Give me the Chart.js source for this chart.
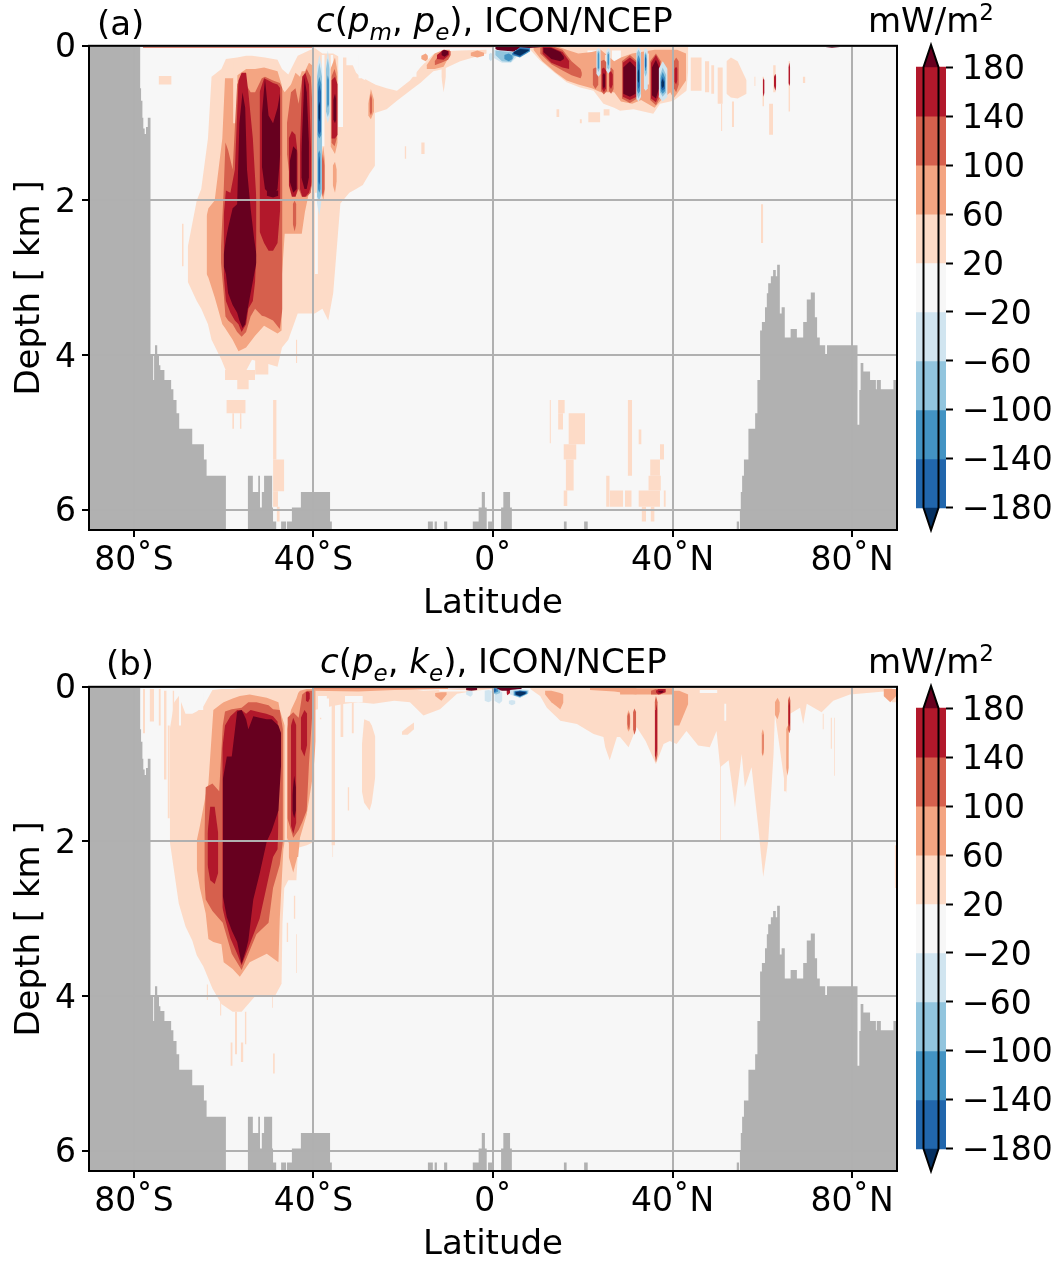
<!DOCTYPE html>
<html>
<head>
<meta charset="utf-8">
<title>ICON/NCEP energy conversion</title>
<script src="https://cdn.jsdelivr.net/npm/chart.js@4"></script>
<style>
  html, body { margin: 0; background: #fff; }
  #page { position: relative; width: 1060px; height: 1263px; overflow: hidden; font-family: "DejaVu Sans"; color: #000; }
  canvas { position: absolute; }
  .txt { position: absolute; font-size: 34px; line-height: 40px; white-space: nowrap; }
  .txt sub { font-size: 23px; line-height: 0; }
  .txt sup { font-size: 23px; line-height: 0; }
</style>
</head>
<body>
<div id="page">
  <canvas id="mainA" width="905" height="605" style="left:0;top:20px"></canvas>
  <canvas id="barA" width="155" height="543" style="left:905px;top:16px"></canvas>
  <canvas id="mainB" width="905" height="605" style="left:0;top:661px"></canvas>
  <canvas id="barB" width="155" height="543" style="left:905px;top:657px"></canvas>

  <div class="txt" style="left:97px;top:3px">(a)</div>
  <div class="txt" style="left:316px;top:0">
    <i>c</i>(<i>p<sub>m</sub></i>, <i>p<sub>e</sub></i>), ICON/NCEP</div>
  <div class="txt" style="left:868px;top:0">mW/m<sup>2</sup></div>
  <div class="txt" style="left:106px;top:643px">(b)</div>
  <div class="txt" style="left:320px;top:641px"><i>c</i>(<i>p<sub>e</sub></i>, <i>k<sub>e</sub></i>), ICON/NCEP</div>
  <div class="txt" style="left:868px;top:641px">mW/m<sup>2</sup></div>
</div>

<script>
// colours of the contour levels
const c0 = '#f7f7f7', p20 = '#fddbc7', p60 = '#f4a582', p100 = '#d6604d', p140 = '#b2182b', p180 = '#67001f';
const n20 = '#d1e5f0', n60 = '#92c5de', n100 = '#4393c3', n140 = '#2166ac', n180 = '#053061';
const landColor = '#b1b1b1', gridColor = '#b0b0b0';

const latTicks = [-80, -40, 0, 40, 80];
const latLabels = ['80˚S', '40˚S', '0˚', '40˚N', '80˚N'];
const depthTicks = [0, 2, 4, 6];
const barTicks = [180, 140, 100, 60, 20, -20, -60, -100, -140, -180];
const barLabels = ['180', '140', '100', '60', '20', '−20', '−60', '−100', '−140', '−180'];
const barColors = [p140, p100, p60, p20, c0, n20, n60, n100, n140];
const depthMax = 6.26;

// sea floor, depth holds until the next latitude
const landLat = [-90,-78.6,-78.4,-78.1,-77.9,-77.6,-77.3,-76.9,-76.3,-75.7,-75.5,-75.3,-74.8,-74.4,-74.1,-73.2,-71.7,-71.2,-70.5,-69.9,-67,-64.4,-63.8,-59.5,
  -54.6,-53.5,-52.3,-51.9,-51.5,-51,-49.2,-49,-48.3,-47.2,-46.1,-45.9,-44.8,-42.8,-36.3,-35.9,-14.5,-13.4,-13,-12.5,-10.9,-10.2,-4.5,-3.2,-2.5,-1.8,-1.4,-1.1,-0.2,
  1.8,2.3,3.8,4.2,15.8,16.4,20.3,21.1,54.3,54.8,55,55.2,55.5,55.9,56.9,58.4,58.9,59.5,59.9,60.6,61,61.3,61.9,62.4,63,63.3,63.9,64.3,65,66.3,67.7,69.1,69.9,70.8,71.7,72.2,72.8,74,74.4,
  81.2,81.6,81.9,82.5,84,85.3,85.5,86.4,89.2,90];
const landDepth = [0,.55,.71,.93,1.07,1.14,1.05,.93,4,4.32,4,3.87,4,4.13,4.19,4.32,4.44,4.58,4.75,4.95,5.15,5.35,5.56,6.26,
  5.56,5.77,5.56,5.97,5.77,5.56,5.97,6.15,6.26,6.15,6.26,6.15,5.97,5.77,6.15,6.26,6.15,6.26,6.15,6.26,6.15,6.26,6.15,5.97,5.77,5.97,6.26,6.15,6.26,
  5.97,5.77,5.97,6.26,6.15,6.26,6.15,6.26,6.15,6.26,6,5.77,5.56,5.35,4.95,4.75,4.32,3.68,3.57,3.38,3.2,3.07,2.98,2.9,2.98,2.83,3.46,3.38,3.77,3.66,3.77,3.57,3.28,3.19,3.51,3.77,3.87,3.99,3.87,
  4.9,4.45,4.1,4.21,4.32,4.44,4.32,4.44,4.32,4.32];

// panel (a): shapes are [lats, top depths, bottom depths], rects are [lat, lat, top, bottom]
const a20 = [
  [[-68,-66,-65,-63.5,-62.7,-60.5,-59.5,-57,-55,-53.7,-50.8,-48,-47,-45.6,-43.5,-41,-39.7,-38,-36.7,-35.6,-34,-32,-30.5,-29,-27.5,-26.3],
   [2.6,2,1.85,1.2,.4,.3,.17,.15,.13,.13,.15,.18,.3,.37,.13,.06,.03,.1,.1,.1,.15,.15,.35,.43,.47,.5],
   [3.05,3.3,3.4,3.6,3.8,4.06,4.2,4.3,4.2,4.06,4.1,4.15,3.9,3.8,3.46,3.46,3.46,3.4,3.55,3.2,2.04,1.9,1.85,1.8,1.65,1.55]],
  [[-28.5,-26.3,-23.7,-21.4,-18.5,-16.2,-13.3,-11,-7.3,-1.4],
   [.43,.5,.55,.58,.45,.28,.11,.07,.06,.05],
   [.8,.87,.82,.71,.58,.48,.33,.3,.2,.1]],
  [[6.5,8.3,10.5,13.5,16.4,19.4,22.4,24.6,27,28.3,31.3,35.7,37.2,40.2,43.1,43.5],
   [0,0,0,0,0,0,0,0,0,0,0,0,0,0,0,0],
   [.03,.05,.19,.34,.47,.54,.58,.75,.8,.84,.82,.88,.75,.71,.58,.3]],
  [[-11.5,-11,-10.5],[.28,.28,.28],[.4,.6,.4]],
  [[52,53,54.5,56.5],[.2,.15,.2,.45],[.62,.67,.68,.62]]
];
const a20Rects = [
  [-74.5,-71.6,.39,.5],[-69.3,-68.9,2.3,2.85],[-59.7,-53,4.19,4.32],[-57,-54.4,4.32,4.44],[-59.4,-55.1,4.58,4.75],[-58.1,-57.7,4.75,4.95],[-56.4,-56,4.75,4.95],
  [-49,-48.2,4.58,5.35],[-49,-46.5,5.35,5.76],[-49,-47.9,5.76,5.96],[-48.2,-47.5,5.96,6.15],[-43.9,-43.6,3.8,4.1],[-53,-50,3.9,4.25],
  [-19.7,-19.3,1.3,1.46],[-16,-15.2,1.25,1.4],[14.1,14.8,.82,.92],[19.3,19.8,.95,1],[21.2,23.9,.86,.99],[24.6,26,.82,.9],
  [44,46.5,.15,.58],[47.2,48.2,.2,.6],[48.6,49.3,.25,.62],[50,51.2,.28,.75],[50.8,51.1,.75,1.1],[53.2,53.7,.72,1.05],[58.2,58.5,.4,.52],
  [60,60.4,.4,.78],[61.5,62.4,.75,1.15],[62.4,63,.25,.6],[65.8,66.2,.2,.85],[59.7,60.2,2.05,2.55],[69,69.6,.4,.48],
  [12.6,12.9,4.58,5.14],[14.5,16,4.58,4.75],[14.5,15.6,4.75,4.96],[16.8,20.5,4.75,5.15],[15.7,18.6,5.15,5.35],[16.2,18,5.35,5.75],[15.7,16.6,5.75,5.95],
  [25.2,26,5.56,5.96],[26,29,5.75,5.96],[29.4,30.9,5.75,5.96],[30,31,4.58,5.56],[32.4,37.2,5.75,5.96],[34.6,37.4,5.56,5.75],[35,37.2,5.35,5.56],[32.4,33.1,4.96,5.15],
  [33.1,34.1,5.96,6.15],[35.1,36,5.96,6.15],[38,38.5,5.75,5.96],[37.2,38.1,5.15,5.35]
];
const a0Rects = [
  [-39.7,-39,1.9,2.95],[-38.2,-37.5,.12,1.3],[-36.2,-35.6,.12,.3],[-34.5,-33.4,.1,1.05],[-32.7,-29,.1,.25],[-30,-22,.12,.42],[-22,-17,.12,.4],[-17,-15,.1,.22],
  [26.5,28.5,.06,.3],[21,24,.06,.13]
];
const a60 = [
  [[-63.8,-63.4,-62,-60.3,-59.7,-58,-56.7,-55,-53,-51,-48,-47.1,-47,-46.4,-45,-44,-43,-42.6,-41.9,-41,-40.3],
   [2.2,2.1,2,1.2,.42,.42,.37,.3,.3,.28,.33,.5,.55,.6,.5,.35,.4,.33,.33,.22,.25],
   [2.95,3,3.25,3.6,3.65,3.8,3.95,3.9,3.75,3.62,3.72,3.68,2.95,2.43,2.43,2.43,2.43,2.43,2.15,1.9,1.8]],
  [[-36.2,-35.2,-34.6],[.3,.15,.35],[1.3,1.4,1.25]],
  [[-35.7,-35.2,-34.8],[1.55,1.5,1.6],[1.8,1.9,1.75]],
  [[-38.4,-37.8,-37.4],[1.5,1.3,1.5],[1.85,2,1.85]],
  [[-27.8,-27.2,-26.5],[.75,.56,.7],[.9,.95,.85]],
  [[-14.8,-13,-11,-9.6],[.25,.1,.05,.05],[.3,.3,.27,.12]],
  [[-16,-15,-14.5],[.13,.1,.13],[.17,.2,.17]],
  [[-5,-3.5,-2],[.09,.06,.09],[.13,.15,.13]],
  [[9,11,14,16.4,19,22,24,27,28.5,31,33,36,37.5,39.5,40.2,41,43],
   [0,0,0,.05,.1,.08,.05,.2,.15,.1,.08,.05,.05,.05,.05,.05,.1],
   [.05,.2,.35,.45,.5,.55,.6,.6,.72,.75,.7,.8,.7,.6,.68,.62,.45]]
];
const a20Over = [[-57.9,-56.9,.2,1],[24.9,25.4,.12,.5],[33.6,34.8,.1,.5]];
const a100 = [
  [[-60.6,-60,-59.6,-59,-58,-57,-56,-55,-54,-53,-51.5,-50.8,-49,-47.5,-46.9],
   [2.6,1.87,1.25,1.35,1.6,.5,.38,.5,.6,.6,.42,.4,.45,.48,.55],
   [2.8,3.2,3.5,3.55,3.6,3.7,3.76,3.7,3.5,3.4,3.49,3.5,3.55,3.66,3.4]],
  [[-45.9,-45,-44,-43.3,-42.6,-41.5,-40.6,-40.2],[1,.6,.55,.75,.45,.3,.4,.8],[1.4,1.85,1.95,1.85,1.95,1.95,1.9,1.7]],
  [[-44.6,-44.2,-43.8],[2.05,2,2.05],[2.3,2.4,2.3]],
  [[-36,-35.3,-34.8],[.4,.3,.4],[1.25,1.3,1.2]],
  [[-38.3,-37.9,-37.5],[1.55,1.4,1.55],[1.85,1.95,1.85]],
  [[-27.5,-27.2,-26.9],[.7,.62,.7],[.85,.9,.85]],
  [[-13,-11.5,-10,-9.4],[.2,.08,.06,.07],[.25,.22,.18,.12]],
  [[10.5,13,15.5,17.5,19.5,19.8],[0,0,.05,.2,.3,.35],[.1,.24,.32,.38,.42,.38]],
  [[22.2,22.8,23.5],[.3,.28,.3],[.5,.56,.5]],
  [[24,24.7,25.4],[.2,.18,.22],[.58,.63,.58]],
  [[25.8,26.3,26.9],[.3,.28,.32],[.58,.62,.56]],
  [[28.7,30.5,32.1],[.2,.12,.2],[.68,.74,.68]],
  [[35,36.3,37.4],[.2,.1,.2],[.7,.77,.65]],
  [[40.3,40.8,41.4],[.2,.15,.2],[.55,.6,.5]]
];
const a140 = [
  [[-60,-59.5,-58.5,-57.5,-56.7,-56,-55,-54.5,-53.5,-53,-52.7],
   [2.2,1.87,1.9,1.6,.45,.35,.35,.6,1.2,1.7,2],
   [2.95,3.3,3.45,3.55,3.6,3.7,3.6,3.4,3.3,3.05,2.6]],
  [[-52,-51,-50,-49,-48,-47.4],[.6,.42,.45,.48,.5,.55],[2.4,2.55,2.65,2.65,2.55,2.1]],
  [[-45.5,-44.8,-44,-43.5],[1.2,1.1,1.15,1.4],[1.8,1.95,1.95,1.85]],
  [[-43,-42.5,-41.8,-41,-40.5],[1.3,.4,.35,.5,1.4],[1.85,1.95,1.95,1.9,1.8]],
  [[-36,-35.2,-34.6],[.45,.4,.5],[1.2,1.2,1.15]],
  [[-12.5,-11,-9.8],[.12,.05,.07],[.17,.18,.12]],
  [[11,13,15.5,17],[0,.02,.08,.2],[.1,.22,.28,.3]],
  [[24.2,24.7,25.2],[.3,.28,.32],[.55,.6,.55]],
  [[25.9,26.3,26.7],[.35,.33,.37],[.52,.56,.5]],
  [[28.9,30.5,32],[.22,.15,.22],[.66,.7,.66]],
  [[35.2,36.3,37.2],[.22,.12,.22],[.68,.73,.6]],
  [[40.4,40.8,41.1],[.3,.27,.3],[.46,.5,.44]],
  [[60.1,60.3,60.5],[.45,.42,.45],[.6,.66,.6]],
  [[62.6,62.9,63.1],[.4,.36,.4],[.52,.58,.52]],
  [[65.8,66,66.2],[.28,.22,.28],[.48,.52,.48]]
];
const a180 = [
  [[-60,-59.5,-59,-58,-57,-56.5,-55.8,-55.2,-54.8,-54,-53.2,-52.7],
   [2.7,2.5,2.35,2.1,2.05,1,.6,.8,1.6,2.1,2.5,2.7],
   [2.85,2.95,3.2,3.35,3.45,3.55,3.65,3.6,3.45,3.2,2.95,2.8]],
  [[-51.5,-50.8,-50,-49,-48,-47.4],[.9,.42,.9,1,.8,.6],[1.55,1.85,1.9,1.93,1.85,1.4]],
  [[-50.4,-49,-47.8],[1.87,1.87,1.87],[1.94,1.96,1.94]],
  [[-45.3,-44.5,-43.7],[1.5,1.3,1.35],[1.75,1.9,1.85]],
  [[-42.7,-42,-41.5,-41],[1.4,.4,.6,1.25],[1.7,1.85,1.85,1.7]],
  [[-35.6,-35.2,-34.9],[.7,.62,.7],[.95,1,.95]],
  [[-11.5,-10.8,-10],[.07,.05,.07],[.12,.14,.11]],
  [[.5,2,4,5,6.5,8,10.5],[0,0,0,0,0,0,0],[.04,.08,.1,.06,.04,.03,.02]],
  [[11.2,13,15,15.8],[.03,.03,.08,.14],[.08,.17,.2,.17]],
  [[24.4,24.7,25],[.38,.35,.38],[.52,.56,.52]],
  [[29,30.5,31.8],[.28,.2,.28],[.62,.66,.62]],
  [[35.4,36.3,37],[.28,.18,.28],[.64,.68,.55]],
  [[74,75.5,77.3],[0,0,0],[.015,.025,.015]]
];
const a100Rects = [[-78,-40,0,.025],[-40,0,0,.02],[8,74,0,.015],[77,90,0,.01]];
const aNeg20 = [
  [[-39.3,-38.7,-38],[.3,.12,.3],[1.3,1.4,1.3]],
  [[-39.3,-38.7,-38.2],[1.4,1.35,1.45],[2,2.2,2]],
  [[-37.3,-36.8,-36.3],[.25,.06,.25],[.9,1,.9]],
  [[-.9,-.5,-.1],[.11,.09,.11],[.17,.2,.17]],
  [[0,2,4,5.2],[.05,.06,.07,.08],[.15,.22,.22,.15]],
  [[23,23.5,24],[.05,.03,.05],[.36,.4,.36]],
  [[25.2,25.7,26.2],[.06,.03,.06],[.32,.36,.32]],
  [[31.9,32.4,33],[.06,.02,.06],[.68,.72,.66]],
  [[33.6,34,34.5],[.06,.03,.06],[.55,.58,.55]],
  [[36.9,37.8,38.9],[.3,.2,.3],[.66,.72,.66]]
];
const aNeg60 = [
  [[-39.2,-38.7,-38.1],[.4,.22,.4],[1.95,2,1.9]],
  [[-37.2,-36.8,-36.4],[.3,.16,.3],[.85,.92,.85]],
  [[.5,2,4,5],[.06,.07,.08,.09],[.12,.2,.21,.12]],
  [[23.2,23.5,23.8],[.08,.06,.08],[.3,.34,.3]],
  [[25.4,25.7,26],[.1,.07,.1],[.28,.31,.28]],
  [[32,32.4,32.9],[.1,.05,.1],[.62,.68,.62]],
  [[33.7,34,34.3],[.12,.08,.12],[.35,.4,.35]],
  [[37.2,37.8,38.6],[.38,.28,.38],[.6,.66,.6]]
];
const aNeg100 = [
  [[-39.1,-38.7,-38.2],[.5,.4,.5],[1.15,1.2,1.15]],
  [[-39,-38.7,-38.4],[1.4,1.35,1.4],[1.85,1.9,1.85]],
  [[-37,-36.8,-36.5],[.45,.38,.45],[.75,.8,.75]],
  [[2.5,3.5,4.4],[.12,.1,.13],[.17,.2,.17]],
  [[4.2,6,8.3],[.1,.02,.03],[.12,.15,.07]],
  [[23.3,23.5,23.7],[.12,.08,.12],[.28,.3,.28]],
  [[25.5,25.7,25.9],[.12,.1,.12],[.22,.26,.22]],
  [[32.1,32.4,32.8],[.18,.12,.18],[.58,.62,.58]],
  [[33.8,34,34.2],[.14,.1,.14],[.3,.33,.3]],
  [[37.3,37.8,38.4],[.42,.34,.42],[.58,.62,.58]]
];
const aNeg140 = [
  [[-39,-38.7,-38.3],[.6,.5,.6],[1.1,1.15,1.1]],
  [[-38.9,-38.7,-38.5],[1.5,1.42,1.5],[1.75,1.8,1.75]],
  [[4.4,6,8],[.09,.03,.04],[.11,.14,.06]],
  [[32.2,32.4,32.7],[.25,.18,.25],[.52,.56,.52]],
  [[33.8,34,34.2],[.17,.14,.17],[.26,.29,.26]],
  [[37.4,37.8,38.3],[.46,.4,.46],[.55,.58,.55]]
];
const aNeg180 = [
  [[-38.9,-38.7,-38.5],[.78,.72,.78],[.93,.98,.93]],
  [[4.6,6,8],[.08,.04,.05],[.1,.13,.06]],
  [[32.2,32.4,32.6],[.35,.3,.35],[.45,.48,.45]],
  [[37.5,37.8,38.1],[.47,.43,.47],[.52,.55,.52]]
];

// panel (b)
const b20 = [
  [[-72,-71,-70,-68.5,-67,-66,-64.5,-62.5,-60.5,-58,-56,-53,-48.6,-47.1,-46.9,-46.5,-45.6,-43.8,-43.4,-41.5,-39.7],
   [.55,.2,.12,.35,.35,.32,.25,.04,.03,.03,.02,.02,.02,.02,.02,.02,.02,.02,.02,.02,.02],
   [2,2.4,2.8,3.1,3.28,3.47,3.62,3.9,4.1,4.2,4.2,4,4,3.84,3.06,2.6,2.5,2.5,2.08,2.05,2]],
  [[-39.7,-36,-33,-30,-26.6,-22,-18.5,-15.5,-11.8,-8,-4,0],
   [0,0,0,0,0,0,.03,.05,.04,.03,.02,.02],
   [.3,.25,.22,.2,.22,.18,.2,.37,.29,.09,.05,.03]],
  [[-29.2,-28.7,-27.5,-27,-26.2],[.75,.42,.45,.5,.65],[1.35,1.5,1.6,1.5,1.15]],
  [[-20.3,-19,-17.6],[.58,.52,.46],[.62,.62,.55]],
  [[8.3,10.5,12,15,18.7,22.4,24.6,25,26,27.6,28.3,30.2,32,34,36.3,38,39.4,40.9,43.1,45.7,48.3,49.8,50.6,52.5,53.9,55.4,56.1,57.6,59.1,60.2,61.3,62.5,62.8,65.3,66.2,68.4,69.1,69.9,73.2,75.8,79.5,89],
   [0,0,0,0,0,0,0,0,0,0,0,0,0,0,0,0,0,0,0,0,0,0,0,0,0,0,0,0,0,0,0,0,0,0,0,0,0,0,0,0,0,0],
   [.03,.12,.27,.44,.48,.61,.65,.78,.95,.65,.65,.78,.52,.7,1,.74,.7,.74,.57,.76,.78,.57,1.04,.95,1.56,.87,1.3,1.04,1.82,2.46,2,.87,.35,1.38,.35,.27,.48,.22,.33,.18,.1,.05]]
];
const b20Rects = [
  [-78,-77.5,.03,.6],[-76.5,-75.5,.03,.45],[-74.5,-74,.03,.5],[-73.3,-72.7,.05,1.2],[-72.5,-72,.5,1.7],[-71.4,-71,.05,.6],[-36,-35.2,.2,2.05],[-35.8,-35.6,2.05,2.2],
  [-32.4,-32,1.3,1.6],[-38.6,-38.2,.2,.42],[-34,-33.3,.2,.65],[-31.5,-31,.2,.6],[-44.4,-44,2.7,3],
  [-57.5,-57,4.2,4.75],[-55.3,-54.9,4.2,4.62],[-58.5,-58,4.6,4.9],[-56.2,-55.6,4.6,4.85],[-49,-48.6,4.74,5],[-63.8,-63.5,3.85,4.05],[-60.8,-60.5,4.05,4.25],[-49.2,-49,4,4.15],
  [-46,-45.6,3.05,3.3],[-43.9,-43.7,3.2,3.7],[50.6,50.8,1,2],[64.8,65.4,.5,1.35],[73.4,73.7,.35,.55],[75.2,75.5,.4,.8],[76,76.2,.4,1.15],[88.8,89.8,.03,.2],[89.5,89.8,2.05,2.6]
];
const b0Rects = [
  [-77.2,-76.7,.05,.5],[-75.3,-74.7,.05,.55],[-73.8,-73.4,.05,.5],[-70,-69.5,.12,.5],[-68,-64.5,.07,.3],[-38,-36.5,.15,.3],[-33,-29,.12,.2],
  [51.5,52,.22,.44],[46,50,.04,.08],[-12,-6,.04,.06],[-39,-37,.12,.4]
];
const b60 = [
  [[-66,-65.3,-64,-63.4,-62.3,-60.5,-60,-58,-56.4,-54.2,-50.4,-47.8,-47.5,-46.7,-46.4],
   [1.99,1.8,1.4,1.25,.3,.22,.2,.15,.12,.1,.14,.2,.3,.45,.5],
   [2.35,2.6,2.93,3.26,3.3,3.33,3.56,3.65,3.75,3.56,3.45,3.56,3,2.1,2]],
  [[-45.9,-45,-43.8,-43.4,-43,-41.5,-40,-39.5],[.55,.3,.15,.08,.05,.03,.03,.05],[1.95,2.1,2.2,2.2,1.95,1.65,1.1,.7]],
  [[-12.9,-11.5,-10.3],[.08,.07,.07],[.12,.18,.1]],
  [[11.6,13,15,15.7],[.05,.05,.08,.1],[.1,.2,.29,.2]],
  [[40.3,41.5,43.5],[.05,.05,.1],[.5,.5,.22]],
  [[-45.5,-44.5,-43.6],[2,1.9,2],[2.2,2.4,2.2]],
  [[28.3,34,40],[.02,.02,.02],[.1,.1,.1]],
  [[-40,-30,-22,-10],[.01,.01,.01,.01],[.05,.06,.04,.03]],
  [[21.6,27,32],[.01,.01,.01],[.04,.06,.1]],
  [[29.8,30.2,30.6],[.37,.3,.37],[.53,.58,.53]],
  [[30,30.3,30.6],[.4,.36,.4],[.46,.55,.46]],
  [[62.8,63.4,63.9],[.2,.14,.2],[.36,.42,.32]],
  [[59.8,60.1,60.4],[.6,.55,.6],[.85,.9,.85]],
  [[65.3,65.6,65.9],[.55,.5,.55],[1.05,1.15,1.05]],
  [[87,88.5,89.8],[.03,.03,.03],[.12,.2,.12]]
];
const b100 = [
  [[-64.3,-64,-62.5,-61,-60.2,-59.7,-58.2,-56,-54.5,-52.7,-50,-49,-47.5,-46.8],
   [1.9,1.3,1.25,1.35,.5,.32,.29,.27,.2,.2,.24,.29,.3,.55],
   [2.5,2.75,2.9,3,3.05,3.15,3.45,3.66,3.45,3.2,3.05,2.6,2.3,2]],
  [[-45.8,-44.5,-43.3,-42.5,-41.5,-41,-40.2],[.4,.33,.4,.1,.05,.05,.05],[1.7,1.95,1.85,1.75,1.6,1,.3]],
  [[31.2,31.5,31.9],[.33,.28,.33],[.55,.62,.55]],
  [[29.9,30.3,30.5],[.38,.33,.38],[.48,.56,.48]],
  [[35.2,36.3,37.4],[.05,.03,.05],[.1,.1,.1]],
  [[36,36.3,36.7],[.2,.12,.2],[.88,.98,.88]],
  [[65.7,66,66.3],[.18,.12,.18],[.55,.6,.55]],
  [[60,60.1,60.3],[.62,.6,.62],[.8,.88,.8]]
];
const b140 = [
  [[-63.6,-63,-62,-61.2],[1.9,1.55,1.55,1.9],[2.3,2.5,2.55,2.4]],
  [[-60.3,-59.7,-58.5,-57,-56,-55,-54,-52,-50.5,-49,-48,-47.8],
   [.8,.5,.38,.3,.3,.35,.3,.33,.35,.38,.45,.6],
   [2.85,3,3.25,3.45,3.6,3.45,3.3,3,2.6,2.2,2.1,1.8]],
  [[-45,-44.5,-43.8],[.5,.4,.5],[1.8,1.9,1.75]],
  [[-42.8,-42,-41.4],[.4,.3,.35],[.8,.9,.75]],
  [[-41.7,-41.2,-40.8],[.07,.06,.08],[.18,.2,.15]],
  [[36.3,36.8,37.5,38.5],[.05,.03,.03,.03],[.07,.1,.09,.07]],
  [[36.1,36.3,36.6],[.3,.22,.3],[.8,.9,.8]],
  [[65.8,66,66.2],[.25,.18,.25],[.46,.52,.46]],
  [[3,3.2,3.8],[.05,.03,.05],[.08,.11,.08]]
];
const b180 = [
  [[-60.2,-59.3,-58.2,-57,-56,-55,-54.5,-53.4,-52,-50.4,-49.3,-47.8,-47.2],
   [1.2,.9,.9,.32,.3,.42,.55,.38,.4,.42,.42,.5,.6],
   [2.7,2.98,3.15,3.3,3.58,3.4,3.28,2.75,2.42,2,1.86,1.6,1]],
  [[-44.7,-44.3,-43.9],[1.4,1.15,1.3],[1.6,1.7,1.6]],
  [[.5,2,4,6.4],[0,0,0,0],[.03,.05,.05,.03]],
  [[-6,-5,-3.5],[.01,0,.01],[.04,.05,.04]],
  [[36.8,37.6,38],[.05,.05,.05],[.07,.08,.06]]
];
const b100Rects = [[-78,-40,0,.012],[-40,0,0,.02],[6,90,0,.012]];
const bNeg20 = [
  [[-1.9,-1,-.3],[.05,.04,.05],[.18,.2,.18]],
  [[.3,1.4,2.1],[.07,.05,.07],[.18,.22,.18]],
  [[3.5,4.2,5],[.18,.17,.18],[.22,.24,.22]],
  [[-6,-5,-4.5],[.06,.05,.06],[.1,.13,.1]],
  [[3.8,6,8],[.04,.03,.04],[.1,.14,.08]]
];
const bNeg60 = [
  [[-.3,.7,1.6],[.03,.02,.04],[.08,.1,.08]],
  [[4.5,6,7.8],[.05,.04,.05],[.11,.14,.09]]
];
const bNeg100 = [[[-.1,.4,1.2],[.03,.02,.03],[.06,.08,.06]],[[4.7,6,7.6],[.06,.05,.06],[.11,.13,.09]]];
const bNeg140 = [[[0,.3,.8],[.03,.02,.03],[.05,.07,.05]],[[4.9,6,7.5],[.06,.05,.06],[.1,.13,.08]]];
const bNeg180 = [[[5,6,7.3],[.07,.06,.07],[.1,.12,.09]]];

// paint order of the filled levels, light first
const layersA = [
  [c0, [[[-90,90],[0,0],[depthMax,depthMax]]], []],
  [p20, a20, a20Rects], [c0, [], a0Rects], [p60, a60, []], [p20, [], a20Over],
  [p100, a100, a100Rects], [p140, a140, []], [p180, a180, []],
  [n20, aNeg20, []], [n60, aNeg60, []], [n100, aNeg100, []], [n140, aNeg140, []], [n180, aNeg180, []]
];
const layersB = [
  [c0, [[[-90,90],[0,0],[depthMax,depthMax]]], []],
  [p20, b20, b20Rects], [c0, [], b0Rects], [p60, b60, []],
  [p100, b100, b100Rects], [p140, b140, []], [p180, b180, []],
  [n20, bNeg20, []], [n60, bNeg60, []], [n100, bNeg100, []], [n140, bNeg140, []], [n180, bNeg180, []]
];

const font = { family: 'DejaVu Sans', size: 33 };
const titleFont = { family: 'DejaVu Sans', size: 34 };

function toPoints(lats, vals) {
  return lats.map((lat, i) => ({ x: lat, y: vals[i] }));
}

function areaDatasets(layers) {
  const sets = [];
  let order = 0;
  layers.forEach(([color, shapes, rects]) => {
    const all = shapes.concat(rects.map(r => [[r[0], r[1]], [r[2], r[2]], [r[3], r[3]]]));
    all.forEach(([lats, tops, bots]) => {
      order--;
      sets.push({ data: toPoints(lats, tops), fill: '+1', backgroundColor: color, borderWidth: 0, pointRadius: 0, order: order });
      sets.push({ data: toPoints(lats, bots), fill: false, borderWidth: 0, pointRadius: 0, order: order });
    });
  });
  order--;
  sets.push({ data: toPoints(landLat, landDepth), stepped: true, fill: { value: depthMax }, backgroundColor: landColor, borderWidth: 0, pointRadius: 0, order: order });
  return sets;
}

const frame = {
  id: 'frame',
  afterDraw(chart) {
    const a = chart.chartArea, ctx = chart.ctx;
    ctx.save();
    ctx.strokeStyle = '#000';
    ctx.lineWidth = 2;
    ctx.strokeRect(a.left, a.top, a.right - a.left, a.bottom - a.top);
    ctx.restore();
  }
};

function drawPanel(id, layers) {
  new Chart(document.getElementById(id), {
    type: 'line',
    data: { datasets: areaDatasets(layers) },
    plugins: [frame],
    options: {
      responsive: false,
      animation: false,
      layout: { padding: { top: 10, right: 8, left: 10, bottom: 0 } },
      plugins: { legend: { display: false }, tooltip: { enabled: false }, filler: { propagate: false } },
      scales: {
        x: {
          type: 'linear', min: -90, max: 90,
          afterBuildTicks: s => { s.ticks = latTicks.map(v => ({ value: v })); },
          afterFit: s => { s.height = 95; },
          grid: { z: 1, color: gridColor, lineWidth: 2, tickColor: '#000', tickLength: 7, tickWidth: 2 },
          border: { display: false },
          ticks: { color: '#000', font: font, padding: 5, maxRotation: 0, autoSkip: false, callback: v => latLabels[latTicks.indexOf(v)] },
          title: { display: true, text: 'Latitude', color: '#000', font: titleFont, padding: { top: 0, bottom: 0 } }
        },
        y: {
          type: 'linear', min: 0, max: depthMax, reverse: true,
          afterBuildTicks: s => { s.ticks = depthTicks.map(v => ({ value: v })); },
          afterFit: s => { s.width = 79; },
          grid: { z: 1, color: gridColor, lineWidth: 2, tickColor: '#000', tickLength: 7, tickWidth: 2 },
          border: { display: false },
          ticks: { color: '#000', font: font, padding: 6, labelOffset: 3, callback: v => String(v) },
          title: { display: true, text: 'Depth [ km ]', color: '#000', font: titleFont, padding: { top: 0, bottom: 0 } }
        }
      }
    }
  });
}

function drawColorbar(id) {
  const sets = [];
  barColors.forEach((color, i) => {
    sets.push({ type: 'bar', data: [{ x: 0.5, y: [barTicks[i + 1], barTicks[i]] }], backgroundColor: color, barThickness: 30, grouped: false, order: 5 });
  });
  sets.push({ type: 'line', data: [{ x: 0, y: 180 }, { x: 0.5, y: 198.3 }, { x: 1, y: 180 }], fill: { value: 180 }, backgroundColor: p180, borderWidth: 0, pointRadius: 0, order: 4 });
  sets.push({ type: 'line', data: [{ x: 0, y: -180 }, { x: 0.5, y: -198.3 }, { x: 1, y: -180 }], fill: { value: -180 }, backgroundColor: n180, borderWidth: 0, pointRadius: 0, order: 3 });
  sets.push({ type: 'line', data: [{ x: 0, y: -180 }, { x: 0, y: 180 }, { x: 0.5, y: 198.3 }, { x: 1, y: 180 }, { x: 1, y: -180 }, { x: 0.5, y: -198.3 }, { x: 0, y: -180 }],
    fill: false, borderColor: '#000', borderWidth: 2, pointRadius: 0, clip: false, order: 1 });

  new Chart(document.getElementById(id), {
    data: { datasets: sets },
    options: {
      responsive: false,
      animation: false,
      layout: { padding: { top: 10, left: 11, right: 0, bottom: 5 } },
      plugins: { legend: { display: false }, tooltip: { enabled: false } },
      scales: {
        x: { type: 'linear', min: 0, max: 1, display: false },
        y: {
          type: 'linear', position: 'right', min: -198.3, max: 198.3,
          afterBuildTicks: s => { s.ticks = barTicks.map(v => ({ value: v })); },
          afterFit: s => { s.width = 114; },
          grid: { drawOnChartArea: false, tickColor: '#000', tickLength: 7, tickWidth: 2 },
          border: { display: false },
          ticks: { color: '#000', font: font, padding: 9, labelOffset: 3, align: 'center', crossAlign: 'near', autoSkip: false, callback: v => barLabels[barTicks.indexOf(v)] }
        }
      }
    }
  });
}

drawPanel('mainA', layersA);
drawColorbar('barA');
drawPanel('mainB', layersB);
drawColorbar('barB');
</script>
</body>
</html>
